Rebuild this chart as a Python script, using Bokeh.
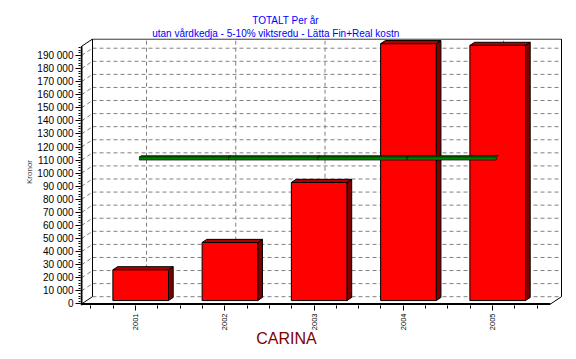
import math
from bokeh.plotting import figure
from bokeh.models import Range1d, FixedTicker, Title
from bokeh.embed import file_html
from bokeh.resources import INLINE

# ---- data ----
years = ["2001", "2002", "2003", "2004", "2005"]
totals = [23500, 44400, 90300, 196400, 195100]
average = [109300, 109300, 109300, 109300, 109300]
y_ticks = list(range(0, 190001, 10000))
y_tick_labels = {t: "{:,}".format(t).replace(",", " ") for t in y_ticks}
axis_max = 197000

title_text = "TOTALT Per år"
subtitle_text = "utan vårdkedja - 5-10% viktsredu - Lätta Fin+Real kostn"
x_label = "CARINA"
y_label = "Kronor"

# ---- layout ----
W, H = 568, 351
BL, BR, BT, BB = 80, 0, 38, 46
FRAME_W, FRAME_H = W - BL - BR, H - BT - BB
X0 = 0.38375
X1 = X0 + FRAME_W / 89.25
Y0 = -1147
Y1 = Y0 + FRAME_H / 0.0013078
PX = FRAME_W / (X1 - X0)
PY = FRAME_H / (Y1 - Y0)
DX = 11 / PX
DY = 7.3 / PY
AXIS_X = X0 + 1 / PX
FRONT_R = X0 + 470 / PX
BW = 0.623
F0, F1 = 0.47, 0.90
LF0, LF1 = 0.35, 0.55
LH = 1.6 / PY

p = figure(width=W, height=H, title=None,
           x_range=Range1d(X0, X1), y_range=Range1d(Y0, Y1),
           output_backend="svg", toolbar_location=None,
           min_border_left=BL, min_border_right=BR, min_border_top=BT, min_border_bottom=BB)
p.background_fill_color = "white"
p.border_fill_color = "white"
p.outline_line_color = None
p.xgrid.visible = False
p.ygrid.visible = False

cats = [i + 1 for i in range(len(years))]
GRID = dict(line_color="#808080", line_width=1, line_dash="4 3")

# back wall horizontal gridlines and side-wall diagonals
p.segment(x0=[AXIS_X + DX] * len(y_ticks), y0=[t + DY for t in y_ticks],
          x1=[FRONT_R + DX] * len(y_ticks), y1=[t + DY for t in y_ticks], **GRID)
p.segment(x0=[AXIS_X] * len(y_ticks[1:]), y0=y_ticks[1:],
          x1=[AXIS_X + DX] * len(y_ticks[1:]), y1=[t + DY for t in y_ticks[1:]], **GRID)
# back wall vertical gridlines
p.segment(x0=[c + DX for c in cats], y0=[DY] * len(cats),
          x1=[c + DX for c in cats], y1=[axis_max + DY] * len(cats), **GRID)

# wall / floor outline
p.line([AXIS_X + DX, AXIS_X + DX, FRONT_R + DX, FRONT_R + DX],
       [DY, axis_max + DY, axis_max + DY, DY], line_color="black", line_width=1)
p.segment(x0=[AXIS_X, AXIS_X, FRONT_R], y0=[axis_max, 0, 0],
          x1=[AXIS_X + DX, AXIS_X + DX, FRONT_R + DX], y1=[axis_max + DY, DY, DY],
          line_color="black", line_width=1)

# bars
xl = [c - BW / 2 for c in cats]
xr = [c + BW / 2 for c in cats]
side_xs = [[r + F0 * DX, r + F1 * DX, r + F1 * DX, r + F0 * DX] for r in xr]
side_ys = [[F0 * DY, F1 * DY, v + F1 * DY, v + F0 * DY] for v in totals]
top_xs = [[l + F0 * DX, r + F0 * DX, r + F1 * DX, l + F1 * DX] for l, r in zip(xl, xr)]
top_ys = [[v + F0 * DY, v + F0 * DY, v + F1 * DY, v + F1 * DY] for v in totals]
front_xs = [[l + F0 * DX, r + F0 * DX, r + F0 * DX, l + F0 * DX] for l, r in zip(xl, xr)]
front_ys = [[F0 * DY, F0 * DY, v + F0 * DY, v + F0 * DY] for v in totals]
p.patches(side_xs, side_ys, fill_color="#800000", line_color="black", line_width=1)
p.patches(top_xs, top_ys, fill_color="#B00000", line_color="black", line_width=1)
p.patches(front_xs, front_ys, fill_color="#FF0000", line_color="black", line_width=1)

# 3D average line
lf_xs, lf_ys, lt_xs, lt_ys = [], [], [], []
for i in range(len(cats) - 1):
    a, b = average[i], average[i + 1]
    x_a, x_b = cats[i], cats[i + 1]
    lf_xs.append([x_a + LF0 * DX, x_b + LF0 * DX, x_b + LF0 * DX, x_a + LF0 * DX])
    lf_ys.append([a - LH + LF0 * DY, b - LH + LF0 * DY, b + LH + LF0 * DY, a + LH + LF0 * DY])
    lt_xs.append([x_a + LF0 * DX, x_b + LF0 * DX, x_b + LF1 * DX, x_a + LF1 * DX])
    lt_ys.append([a + LH + LF0 * DY, b + LH + LF0 * DY, b + LH + LF1 * DY, a + LH + LF1 * DY])
p.patches(lt_xs, lt_ys, fill_color="#00A000", line_color="black", line_width=0.6)
p.patches(lf_xs, lf_ys, fill_color="#008000", line_color="black", line_width=0.6)

# front axis lines
p.line([AXIS_X, AXIS_X], [Y0, axis_max], line_color="black", line_width=2)
p.line([AXIS_X, FRONT_R], [0, 0], line_color="black", line_width=2)

# y axis
yax = p.yaxis[0]
yax.ticker = FixedTicker(ticks=y_ticks, minor_ticks=list(range(0, 196001, 2000)))
yax.major_label_overrides = y_tick_labels
yax.axis_line_color = None
yax.major_tick_out = 5
yax.major_tick_in = 0
yax.minor_tick_out = 2
yax.minor_tick_in = 0
yax.major_label_standoff = 2
yax.major_label_text_font = "Liberation Sans"
yax.major_label_text_font_size = "10px"
yax.major_label_text_color = "black"
yax.axis_label = y_label
yax.axis_label_text_font = "Liberation Sans"
yax.axis_label_text_font_size = "8px"
yax.axis_label_text_font_style = "normal"
yax.axis_label_standoff = 0

# x axis
xax = p.xaxis[0]
minor_x = sorted(set(round(c + d, 2) for c in cats for d in (-0.5, -0.25, 0.25, 0.5)))
xax.ticker = FixedTicker(ticks=cats, minor_ticks=minor_x)
xax.major_label_overrides = {c: y for c, y in zip(cats, years)}
xax.major_label_orientation = math.pi / 2
xax.axis_line_color = None
xax.major_tick_out = 5
xax.major_tick_in = 0
xax.minor_tick_out = 3
xax.minor_tick_in = 0
xax.major_label_standoff = 3
xax.major_label_text_font = "Liberation Sans"
xax.major_label_text_font_size = "7.5px"
xax.major_label_text_color = "black"

# titles
sub = Title(text=subtitle_text, align="left", offset=71.7, standoff=0,
            text_font="Liberation Sans", text_font_size="10px", text_font_style="normal",
            text_color="#0000FF")
main = Title(text=title_text, align="left", offset=171.7, standoff=0,
             text_font="Liberation Sans", text_font_size="10px", text_font_style="normal",
             text_color="#0000FF")
p.add_layout(sub, "above")
p.add_layout(main, "above")
xt = Title(text=x_label, align="left", offset=175.7, standoff=-8, vertical_align="top",
           text_font="Liberation Sans", text_font_size="16px", text_font_style="normal",
           text_color="#800000")
p.add_layout(xt, "below")

open("out.html", "w").write(file_html(p, INLINE))
